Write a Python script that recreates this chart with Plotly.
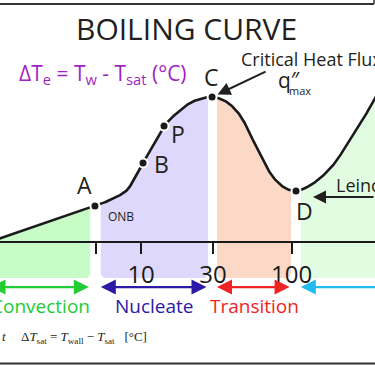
import numpy as np
import plotly.graph_objects as go

# ---- data ----
# wall superheat ΔTe (°C) and heat flux q'' (W/m²) along the boiling curve
dT = [1.0, 4.94, 6.41, 8.06, 9.11, 10.3, 12.1, 14.2, 17.3, 21.1, 24.6, 29.6,
      36.1, 42.0, 47.5, 55.3, 64.5, 75.1, 90.3, 106.8, 122.6, 149.5, 191,
      236.5, 284, 357, 436]
q = [1020, 5600, 7870, 12000, 22600, 44300, 107000, 261000, 487000, 787000,
     953000, 1050000, 866000, 590000, 348000, 133000, 51100, 22600, 13300,
     11500, 13300, 19600, 42200, 115500, 274000, 1000000, 3000000]

pt_labels = ["A", "B", "P", "C", "D"]
pt_dT = [4.94, 10.3, 14.2, 29.6, 106.8]
pt_q = [5600, 44300, 261000, 1050000, 11500]

regions = ["Convection", "Nucleate", "Transition", "Film"]
region_lo = [1.0, 5.4, 31.9, 115.0]
region_hi = [4.6, 27.8, 99.0, 436.0]
region_fill = ["#c7fcc7", "#ddd8fc", "#fcd9c6", "#e1fce1"]
region_arrow = ["#22cc33", "#2b1aa6", "#ee2424", "#22bbee"]
region_show_label = [True, True, True, False]

tick_vals = [5, 10, 30, 100]
tick_text = ["", "10", "30", "100"]

W, H = 375, 366
xr = [0.0631, 2.5531]          # log10 ΔTe range
yr = [0.4167, 8.0417]          # log10 q'' range
q_floor = 178                  # bottom of the coloured bands
q_arrow = 115                  # level of the regime arrows
corner_r = 5.0                 # band corner radius (px)

sx = W / (xr[1] - xr[0])
sy = H / (yr[1] - yr[0])


def cr_segment(p0, p1, p2, p3, n):
    def tj(ti, a, b):
        return ti + max(np.linalg.norm(b - a), 1e-6) ** 0.5
    t0 = 0.0
    t1 = tj(t0, p0, p1)
    t2 = tj(t1, p1, p2)
    t3 = tj(t2, p2, p3)
    t = np.linspace(t1, t2, n, endpoint=False)[:, None]
    A1 = (t1 - t) / (t1 - t0) * p0 + (t - t0) / (t1 - t0) * p1
    A2 = (t2 - t) / (t2 - t1) * p1 + (t - t1) / (t2 - t1) * p2
    A3 = (t3 - t) / (t3 - t2) * p2 + (t - t2) / (t3 - t2) * p3
    B1 = (t2 - t) / (t2 - t0) * A1 + (t - t0) / (t2 - t0) * A2
    B2 = (t3 - t) / (t3 - t1) * A2 + (t - t1) / (t3 - t1) * A3
    return (t2 - t) / (t2 - t1) * B1 + (t - t1) / (t2 - t1) * B2


P = np.column_stack([np.log10(dT) * sx, np.log10(q) * sy])
P = np.vstack([2 * P[0] - P[1], P, 2 * P[-1] - P[-2]])
segs = [cr_segment(P[i - 1], P[i], P[i + 1], P[i + 2], 30) for i in range(1, len(P) - 2)]
segs.append(P[-2][None, :])
S = np.vstack(segs)
cx = 10 ** (S[:, 0] / sx)
cy = 10 ** (S[:, 1] / sy)

fig = go.Figure()

# coloured regime bands under the curve (rounded bottom corners)
lcx, lcy = np.log10(cx), np.log10(cy)
th1 = np.linspace(0, -np.pi / 2, 10)
th2 = np.linspace(-np.pi / 2, -np.pi, 10)
for name, lo, hi, col in zip(regions, region_lo, region_hi, region_fill):
    m = (cx > lo) & (cx < hi)
    xs = np.concatenate([[lo], cx[m], [hi]])
    ys = np.concatenate([[10 ** np.interp(np.log10(lo), lcx, lcy)], cy[m],
                         [10 ** np.interp(np.log10(hi), lcx, lcy)]])
    Xl, Xh, Yf = np.log10(lo) * sx, np.log10(hi) * sx, np.log10(q_floor) * sy
    r = corner_r
    brx = Xh - r + r * np.cos(th1)
    bry = Yf + r + r * np.sin(th1)
    blx = Xl + r + r * np.cos(th2)
    bly = Yf + r + r * np.sin(th2)
    xs = np.concatenate([xs, 10 ** (brx / sx), 10 ** (blx / sx)])
    ys = np.concatenate([ys, 10 ** (bry / sy), 10 ** (bly / sy)])
    fig.add_trace(go.Scatter(x=xs, y=ys, fill="toself", fillcolor=col, mode="lines",
                             line=dict(width=0), hoverinfo="skip", name=name))

fig.add_trace(go.Scatter(x=cx, y=cy, mode="lines", line=dict(color="#1a1a1a", width=2.6),
                         hoverinfo="skip"))
fig.add_trace(go.Scatter(x=pt_dT, y=pt_q, mode="markers",
                         marker=dict(size=9, color="#1a1a1a", line=dict(color="white", width=2)),
                         hoverinfo="skip"))

ann = []
TXT = "#231f20"
FONT = "Open Sans"


def px(x):
    return x / W


def py(y):
    return (H - y) / H


def txt(text, x, y, size, color=TXT, xanchor="center", yanchor="middle", family=None):
    f = dict(size=size, color=color)
    if family:
        f["family"] = family
    return dict(text=text, xref="paper", yref="paper", x=px(x), y=py(y), xanchor=xanchor,
                yanchor=yanchor, showarrow=False, font=f)


ann.append(txt("BOILING CURVE", 186.5, 29, 30))
ann.append(txt("ΔT<sub>e</sub> = T<sub>w</sub> - T<sub>sat</sub> (°C)", 17, 74, 21,
               color="#a21fc4", xanchor="left"))

shifts = {"A": (-10, 21), "B": (18, -1), "P": (14, -8), "C": (-1, 20), "D": (8, -20)}
for lab, tx, ty in zip(pt_labels, pt_dT, pt_q):
    dx, dy = shifts[lab]
    ann.append(dict(text=lab, x=np.log10(tx), y=np.log10(ty), xref="x", yref="y",
                    xanchor="center", yanchor="middle",
                    xshift=dx, yshift=dy, showarrow=False, font=dict(size=23, color=TXT)))

ann.append(dict(text="ONB", x=np.log10(pt_dT[0]), y=np.log10(pt_q[0]), xref="x", yref="y",
                xanchor="center", yanchor="middle",
                xshift=26, yshift=-10, showarrow=False, font=dict(size=12, color=TXT)))

ann.append(txt("Critical Heat Flux", 239, 59, 18, xanchor="left"))
ann.append(txt("q″", 276, 80, 21, xanchor="left"))
ann.append(txt("max", 287, 90, 11, xanchor="left"))
ann.append(dict(text="", x=np.log10(pt_dT[3]), y=np.log10(pt_q[3]), xref="x", yref="y",
                ax=55, ay=-26, showarrow=True, arrowhead=2, arrowsize=1.3, arrowwidth=2,
                arrowcolor=TXT, standoff=6))
ann.append(txt("Leinc", 334, 185, 18, xanchor="left"))
ann.append(dict(text="", x=np.log10(pt_dT[4]), y=np.log10(pt_q[4]), xref="x", yref="y",
                yshift=-6, ax=140, ay=0, showarrow=True, arrowhead=2, arrowsize=1.3,
                arrowwidth=2, arrowcolor=TXT, standoff=17))

for name, lo, hi, col, show in zip(regions, region_lo, region_hi, region_arrow, region_show_label):
    hi_a = hi if name != "Film" else 1000.0
    side = "end+start" if name != "Film" else "end"
    ann.append(dict(text="", x=np.log10(lo), y=np.log10(q_arrow), xref="x", yref="y",
                    ax=np.log10(hi_a), ay=np.log10(q_arrow), axref="x", ayref="y",
                    showarrow=True, arrowhead=2, arrowsize=1.25, arrowwidth=2.4,
                    arrowcolor=col, arrowside=side, startarrowhead=2, startarrowsize=1.25))
    if show:
        ann.append(dict(text=name, x=np.log10(np.sqrt(lo * hi)), y=py(306), xref="x",
                        yref="paper", xanchor="center", yanchor="middle",
                        showarrow=False, font=dict(size=19, color=col)))

ann.append(txt("<i>t</i>", 0, 336, 13, xanchor="left", family="Liberation Serif"))
ann.append(txt("Δ<i>T</i><sub>sat</sub> = <i>T</i><sub>wall</sub> − <i>T</i><sub>sat</sub>   [°C]",
               19, 337, 13, xanchor="left", family="Liberation Serif"))

shapes = [
    dict(type="line", xref="paper", yref="paper", x0=0, x1=px(374), y0=py(4), y1=py(4),
         line=dict(color="#333333", width=2)),
    dict(type="line", xref="paper", yref="paper", x0=px(374), x1=px(374), y0=py(4), y1=py(0),
         line=dict(color="#333333", width=1.5)),
    dict(type="line", xref="paper", yref="paper", x0=0, x1=1, y0=py(363.5), y1=py(363.5),
         line=dict(color="#333333", width=2)),
]

fig.update_layout(
    width=W, height=H, margin=dict(l=0, r=0, t=0, b=0),
    paper_bgcolor="white", plot_bgcolor="white", showlegend=False,
    font=dict(family=FONT, color=TXT),
    annotations=ann, shapes=shapes,
    xaxis=dict(type="log", range=xr, tickvals=tick_vals, ticktext=tick_text,
               ticks="outside", ticklen=11, tickwidth=2, tickcolor="#1a1a1a",
               showline=True, linecolor="#1a1a1a", linewidth=2, showgrid=False,
               zeroline=False, anchor="free", position=(H - 242) / H,
               tickfont=dict(size=24, color="#1a1a1a", family=FONT), fixedrange=True),
    yaxis=dict(type="log", range=yr, visible=False, showgrid=False, fixedrange=True),
)

fig.write_html("out.html", config={"displayModeBar": False},
               post_script="document.body.style.margin='0px';document.body.style.padding='0px';")
